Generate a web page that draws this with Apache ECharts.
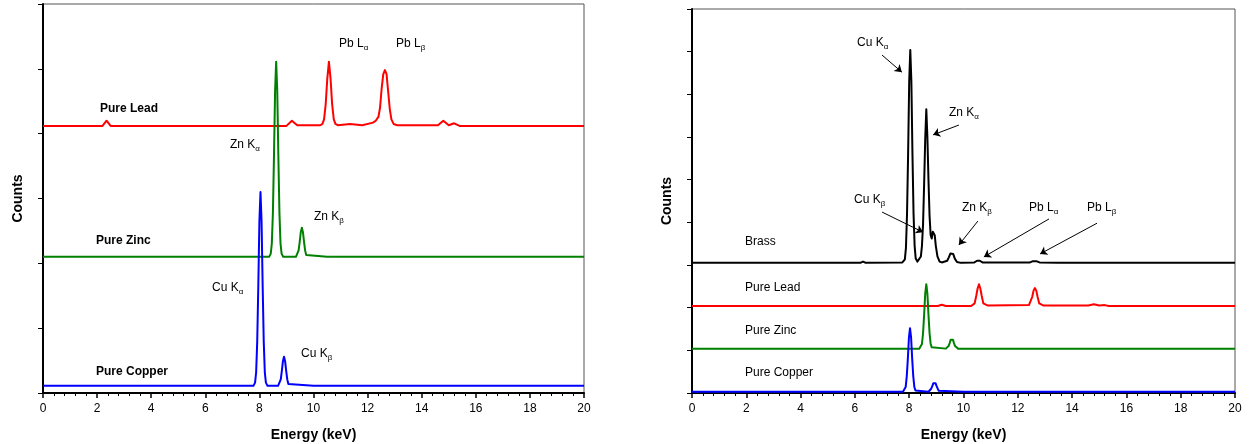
<!DOCTYPE html>
<html lang="en">
<head>
    <meta charset="utf-8"/>
    <title>EDS spectra</title>
    <script src="https://cdn.jsdelivr.net/npm/echarts@6/dist/echarts.min.js"></script>
    <style>
        html, body { margin: 0; padding: 0; background: #fff; }
        #main { width: 1249px; height: 444px; }
    </style>
</head>
<body>
<div id="main"></div>
<script>
    // x ticks, keV
    var energyTicks = [0, 2, 4, 6, 8, 10, 12, 14, 16, 18, 20];

    // left panel: spectra stacked by offset (arbitrary count units)
    var leadLeft = [[0, 4.12], [2.2, 4.12], [2.35, 4.2], [2.5, 4.12], [9.0, 4.12], [9.2, 4.2], [9.4, 4.13],
        [10.25, 4.13], [10.33, 4.15], [10.39, 4.22], [10.45, 4.45], [10.51, 4.85], [10.57, 5.11], [10.63, 4.85],
        [10.69, 4.45], [10.75, 4.22], [10.81, 4.15], [10.9, 4.13], [11.35, 4.15], [11.8, 4.13], [12.2, 4.17],
        [12.3, 4.2], [12.4, 4.26], [12.46, 4.4], [12.52, 4.7], [12.58, 4.92], [12.64, 4.98], [12.7, 4.92],
        [12.76, 4.65], [12.82, 4.38], [12.88, 4.22], [12.96, 4.15], [13.1, 4.13], [14.6, 4.13], [14.8, 4.2],
        [15.0, 4.13], [15.2, 4.16], [15.4, 4.12], [16.5, 4.12], [20, 4.12]];
    var zincLeft = [[0, 2.1], [8.36, 2.1], [8.42, 2.15], [8.46, 2.31], [8.5, 2.79], [8.54, 3.67], [8.58, 4.66],
        [8.62, 5.11], [8.66, 4.66], [8.7, 3.67], [8.74, 2.79], [8.78, 2.31], [8.82, 2.15], [8.88, 2.1],
        [9.35, 2.1], [9.41, 2.13], [9.45, 2.2], [9.49, 2.33], [9.53, 2.48], [9.57, 2.55], [9.61, 2.48],
        [9.65, 2.33], [9.69, 2.2], [9.73, 2.13], [9.8, 2.1], [10.5, 2.1], [20, 2.1]];
    var copperLeft = [[0, 0.11], [7.78, 0.11], [7.84, 0.16], [7.88, 0.32], [7.92, 0.8], [7.96, 1.66], [8.0, 2.65],
        [8.04, 3.1], [8.08, 2.65], [8.12, 1.66], [8.16, 0.8], [8.2, 0.32], [8.24, 0.16], [8.3, 0.11],
        [8.69, 0.11], [8.75, 0.14], [8.79, 0.21], [8.83, 0.34], [8.87, 0.49], [8.91, 0.56], [8.95, 0.49],
        [8.99, 0.34], [9.03, 0.21], [9.07, 0.14], [9.13, 0.11], [10.0, 0.11], [20, 0.11]];

    // right panel
    var brassRight = [[0, 3.05], [6.2, 3.05], [6.3, 3.08], [6.4, 3.05], [7.75, 3.06], [7.84, 3.13], [7.88, 3.4],
        [7.92, 4.2], [7.96, 5.6], [8.0, 7.3], [8.04, 8.04], [8.08, 7.3], [8.12, 5.6], [8.16, 4.2], [8.2, 3.45],
        [8.24, 3.15], [8.3, 3.08], [8.36, 3.12], [8.43, 3.2], [8.47, 3.45], [8.51, 3.95], [8.55, 4.9],
        [8.59, 5.95], [8.63, 6.65], [8.67, 6.0], [8.71, 5.0], [8.75, 4.15], [8.79, 3.7], [8.83, 3.62],
        [8.87, 3.78], [8.9, 3.8], [8.94, 3.7], [8.98, 3.45], [9.04, 3.2], [9.12, 3.08], [9.2, 3.06], [9.4, 3.1],
        [9.46, 3.18], [9.52, 3.27], [9.57, 3.3], [9.62, 3.26], [9.68, 3.15], [9.76, 3.07], [9.9, 3.05],
        [10.4, 3.06], [10.5, 3.1], [10.55, 3.12], [10.6, 3.1], [10.7, 3.06], [12.45, 3.06], [12.56, 3.09],
        [12.62, 3.1], [12.68, 3.09], [12.8, 3.06], [13.5, 3.05], [20, 3.05]];
    var leadRight = [[0, 2.04], [9.05, 2.04], [9.2, 2.07], [9.35, 2.04], [10.28, 2.04], [10.35, 2.06], [10.41, 2.1],
        [10.47, 2.28], [10.52, 2.45], [10.57, 2.55], [10.62, 2.45], [10.67, 2.28], [10.73, 2.1], [10.79, 2.06],
        [10.9, 2.05], [12.41, 2.06], [12.47, 2.1], [12.53, 2.25], [12.58, 2.4], [12.63, 2.46], [12.68, 2.4],
        [12.73, 2.25], [12.79, 2.1], [12.85, 2.06], [12.95, 2.05], [14.6, 2.05], [14.8, 2.08], [15.0, 2.05],
        [15.2, 2.06], [15.35, 2.04], [16.5, 2.04], [20, 2.04]];
    var zincRight = [[0, 1.04], [8.37, 1.04], [8.43, 1.07], [8.47, 1.15], [8.51, 1.4], [8.55, 1.83], [8.59, 2.33],
        [8.63, 2.55], [8.67, 2.33], [8.71, 1.83], [8.75, 1.4], [8.79, 1.15], [8.83, 1.07], [8.9, 1.04],
        [9.35, 1.04], [9.41, 1.06], [9.45, 1.1], [9.49, 1.17], [9.53, 1.25], [9.57, 1.29], [9.61, 1.25],
        [9.65, 1.17], [9.69, 1.1], [9.73, 1.06], [9.8, 1.04], [10.5, 1.04], [20, 1.04]];
    var copperRight = [[0, 0.03], [7.77, 0.03], [7.83, 0.06], [7.87, 0.14], [7.91, 0.39], [7.95, 0.8], [7.99, 1.3],
        [8.03, 1.52], [8.07, 1.3], [8.11, 0.8], [8.15, 0.39], [8.19, 0.14], [8.23, 0.06], [8.3, 0.03],
        [8.71, 0.03], [8.77, 0.05], [8.81, 0.1], [8.85, 0.16], [8.89, 0.23], [8.93, 0.26], [8.97, 0.23],
        [9.01, 0.16], [9.05, 0.1], [9.09, 0.05], [9.15, 0.03], [10.0, 0.03], [20, 0.03]];

    // annotation arrows on brass spectrum: [from, to] in data units
    var arrowPairs = [
        [[7.0, 7.92], [7.73, 7.52]],
        [[9.83, 6.28], [8.88, 6.05]],
        [[7.0, 4.24], [8.51, 3.77]],
        [[10.53, 4.03], [9.83, 3.47]],
        [[13.15, 4.08], [10.75, 3.19]],
        [[14.92, 3.98], [12.82, 3.26]]
    ];

    var font = 'Liberation Sans, Arial, sans-serif';

    function xAx(gi) {
        return {
            type: 'value', gridIndex: gi, min: 0, max: 20, interval: 2,
            name: 'Energy (keV)', nameLocation: 'middle', nameGap: 35,
            nameTextStyle: {fontFamily: font, fontWeight: 'bold', fontSize: 14, color: '#000'},
            axisLine: {lineStyle: {color: '#000', width: 2}},
            axisTick: {length: 5, lineStyle: {color: '#000', width: 1.5}},
            minorTick: {show: true, splitNumber: 5, length: 3, lineStyle: {color: '#000'}},
            axisLabel: {fontFamily: font, fontSize: 12, color: '#000', margin: 10,
                formatter: function (v) { return energyTicks.indexOf(v) >= 0 ? v : ''; }},
            splitLine: {show: false}
        };
    }

    function yAx(gi, max) {
        return {
            type: 'value', gridIndex: gi, min: 0, max: max, interval: 1,
            name: 'Counts', nameLocation: 'middle', nameGap: 18,
            nameTextStyle: {fontFamily: font, fontWeight: 'bold', fontSize: 14, color: '#000'},
            axisLine: {show: true, lineStyle: {color: '#000', width: 2}},
            axisTick: {show: true, length: 5, lineStyle: {color: '#000', width: 1}},
            axisLabel: {show: false},
            splitLine: {show: false}
        };
    }

    function line(data, color, xi, extra) {
        var s = {
            type: 'line', data: data, xAxisIndex: xi, yAxisIndex: xi,
            showSymbol: false, smooth: false,
            lineStyle: {color: color, width: 2, join: 'round'}, itemStyle: {color: color},
            silent: true, animation: false
        };
        return Object.assign(s, extra || {});
    }

    var rich = {
        n: {fontFamily: font, fontSize: 12, color: '#000'},
        s: {fontFamily: font, fontSize: 8, color: '#000', padding: [7, 0, 0, 0]}
    };

    function peak(x, y, main, sub) {
        return {
            type: 'text', x: x, y: y, silent: true,
            style: {text: '{n|' + main + '}{s|' + sub + '}', rich: rich, verticalAlign: 'middle', align: 'left'}
        };
    }

    function name(x, y, txt, bold) {
        return {
            type: 'text', x: x, y: y, silent: true,
            style: {text: txt, fontFamily: font, fontSize: 12, fontWeight: bold ? 'bold' : 'normal',
                fill: '#000', verticalAlign: 'middle', align: 'left'}
        };
    }

    var chart = echarts.init(document.getElementById('main'));
    chart.setOption({
        animation: false,
        grid: [
            {left: 43, top: 4, width: 541, height: 389, show: true, borderColor: '#555', borderWidth: 1,
                containLabel: false, outerBoundsMode: 'none'},
            {left: 692, top: 9, width: 543, height: 384, show: true, borderColor: '#555', borderWidth: 1,
                containLabel: false, outerBoundsMode: 'none'}
        ],
        xAxis: [xAx(0), xAx(1)],
        yAxis: [yAx(0, 6), yAx(1, 9)],
        series: [
            line(leadLeft, '#ff0000', 0),
            line(zincLeft, '#008000', 0),
            line(copperLeft, '#0000ff', 0),
            line(leadRight, '#ff0000', 1),
            line(zincRight, '#008000', 1),
            line(copperRight, '#0000ff', 1),
            line(brassRight, '#000000', 1, {
                markLine: {
                    silent: true, animation: false,
                    symbol: ['none', 'arrow'], symbolSize: 7,
                    lineStyle: {color: '#000', width: 1, type: 'solid'},
                    label: {show: false},
                    data: arrowPairs.map(function (p) {
                        return [{coord: p[0]}, {coord: p[1]}];
                    })
                }
            })
        ],
        graphic: [
            name(100, 109, 'Pure Lead', true),
            name(96, 241, 'Pure Zinc', true),
            name(96, 372, 'Pure Copper', true),
            peak(339, 44, 'Pb L', 'α'),
            peak(396, 44, 'Pb L', 'β'),
            peak(230, 145, 'Zn K', 'α'),
            peak(314, 217, 'Zn K', 'β'),
            peak(212, 288, 'Cu K', 'α'),
            peak(301, 354, 'Cu K', 'β'),

            name(745, 242, 'Brass'),
            name(745, 288, 'Pure Lead'),
            name(745, 331, 'Pure Zinc'),
            name(745, 373, 'Pure Copper'),
            peak(857, 43, 'Cu K', 'α'),
            peak(949, 113, 'Zn K', 'α'),
            peak(854, 200, 'Cu K', 'β'),
            peak(962, 208, 'Zn K', 'β'),
            peak(1029, 208, 'Pb L', 'α'),
            peak(1087, 208, 'Pb L', 'β')
        ]
    });
</script>
</body>
</html>
